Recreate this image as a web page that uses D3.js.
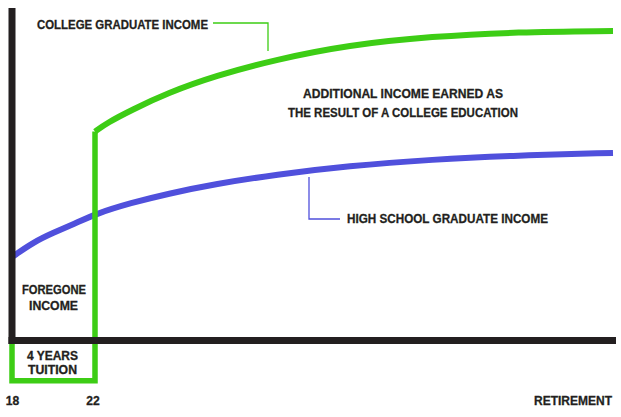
<!DOCTYPE html>
<html>
<head>
<meta charset="utf-8">
<script src="https://cdn.jsdelivr.net/npm/d3@7/dist/d3.min.js"></script>
<style>
  html, body { margin: 0; padding: 0; background: #fff; }
  svg { display: block; }
  text { font-family: "Liberation Sans", Arial, sans-serif; font-weight: bold; fill: #231f20; stroke: #231f20; stroke-width: 0.3px; }
</style>
</head>
<body>
<svg id="chart" width="621" height="417"></svg>
<script>
// Lifetime income paths (schematic units, 100 = college plateau)
const collegeAges   = [22, 23, 25, 28, 32, 37, 43, 50, 57, 65];
const collegeIncome = [67.4, 70.2, 74.3, 79.8, 85.4, 90.6, 95.3, 98.1, 99.5, 99.8];
const hsAges        = [18, 19, 20, 21, 22, 25, 28, 32, 37, 43, 50, 57, 65];
const hsIncome      = [26.9, 31.6, 34.8, 37.6, 40.8, 44.4, 47.3, 50.5, 53.5, 56.3, 58.4, 59.7, 60.5];
const tuitionCost   = -13;     // four years of tuition, below the zero line
const collegeStart  = 22;
const startAge      = 18;
const retireAge     = 65;
const tickLabels    = [{ age: 18, text: "18" }, { age: 22, text: "22" }];

const svg = d3.select("#chart");
const ink = "#231f20", green = "#3dcd15", blue = "#5050dc";

// Age axis is stretched through the college years
const x = d3.scaleLinear().domain([startAge, collegeStart, retireAge]).range([12, 95, 613]);
const y = d3.scaleLinear().domain([0, 100]).range([340.5, 30.5]);

const line = d3.line().x(d => x(d[0])).y(d => y(d[1])).curve(d3.curveBasis);

// High-school income
svg.append("path")
  .datum(d3.zip(hsAges, hsIncome))
  .attr("d", line)
  .attr("fill", "none").attr("stroke", blue).attr("stroke-width", 6);

// College path: tuition box, then the jump at graduation and the earnings curve
const boxPath = d3.path();
boxPath.moveTo(x(startAge), y(0));
boxPath.lineTo(x(startAge), y(tuitionCost));
boxPath.lineTo(x(collegeStart), y(tuitionCost));
boxPath.lineTo(x(collegeStart), y(collegeIncome[0]));
svg.append("path")
  .attr("d", boxPath.toString())
  .attr("fill", "none").attr("stroke", green).attr("stroke-width", 5.5)
  .attr("stroke-linejoin", "miter");
svg.append("path")
  .datum(d3.zip(collegeAges, collegeIncome))
  .attr("d", line)
  .attr("fill", "none").attr("stroke", green).attr("stroke-width", 6);

// Axes
svg.append("line")
  .attr("x1", x(startAge)).attr("x2", x(startAge))
  .attr("y1", 8).attr("y2", y(0) + 3.5)
  .attr("stroke", ink).attr("stroke-width", 7);
svg.append("line")
  .attr("x1", x(startAge) - 3.5).attr("x2", 616)
  .attr("y1", y(0)).attr("y2", y(0))
  .attr("stroke", ink).attr("stroke-width", 7);

// Leader lines
svg.append("polyline")
  .attr("points", [[213, 23], [268, 23], [268, 51]].join(" "))
  .attr("fill", "none").attr("stroke", green).attr("stroke-width", 1.3);
svg.append("polyline")
  .attr("points", [[309, 177], [309, 219], [340, 219]].join(" "))
  .attr("fill", "none").attr("stroke", blue).attr("stroke-width", 1.3);

// Labels, fitted to a condensed width
function label(t, px, py, width, anchor, size) {
  svg.append("text").attr("x", px).attr("y", py)
    .attr("text-anchor", anchor || "start")
    .attr("font-size", size || 13)
    .attr("textLength", width)
    .attr("lengthAdjust", "spacingAndGlyphs")
    .text(t);
}
label("COLLEGE GRADUATE INCOME", 37, 29, 171);
label("ADDITIONAL INCOME EARNED AS", 403, 98, 200, "middle");
label("THE RESULT OF A COLLEGE EDUCATION", 403, 117, 230, "middle");
label("HIGH SCHOOL GRADUATE INCOME", 347, 223, 201);
label("FOREGONE", 54, 294, 64, "middle");
label("INCOME", 53.5, 310, 49, "middle");
label("4 YEARS", 52.5, 360, 51, "middle", 12);
label("TUITION", 52.5, 373.5, 49, "middle", 12);
tickLabels.forEach(d => label(d.text, x(d.age) + (d.age === startAge ? 0.5 : -2), 405, 13.5, "middle"));
label("RETIREMENT", 612, 405, 78, "end");
</script>
</body>
</html>
